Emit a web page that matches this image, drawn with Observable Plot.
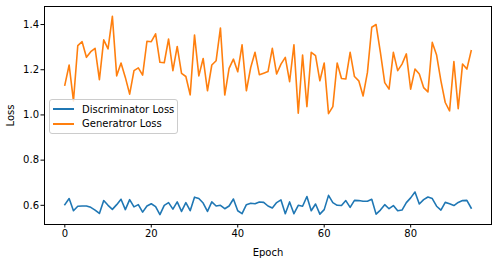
<!DOCTYPE html>
<html>
<head>
<meta charset="utf-8">
<script src="https://cdn.jsdelivr.net/npm/d3@7"></script>
<script src="https://cdn.jsdelivr.net/npm/@observablehq/plot@0.6"></script>
<style>
  html, body { margin: 0; padding: 0; background: #fff; }
  #wrap { position: relative; width: 497px; height: 262px; font-family: "DejaVu Sans", sans-serif; }
  #legend { position: absolute; left: 49px; top: 99px; width: 129px; padding: 2px 0;
    background: rgba(255,255,255,0.8); border: 1px solid #cccccc; border-radius: 3px;
    font-size: 10px; color: #000; box-sizing: border-box; }
  .item { display: flex; align-items: center; height: 14.5px; }
  .swatch { width: 21px; height: 2px; margin-left: 3px; margin-right: 8px; }
</style>
</head>
<body>
<div id="wrap"></div>
<script>
const seriesNames = ["Discriminator Loss", "Generatror Loss"];
const seriesColors = ["#1f77b4", "#ff7f0e"];
const discLoss = [
  0.603,0.630,0.576,0.596,0.597,0.597,0.591,0.579,0.564,0.621,
  0.600,0.582,0.603,0.627,0.581,0.625,0.593,0.603,0.570,0.597,
  0.607,0.594,0.559,0.600,0.612,0.583,0.615,0.573,0.612,0.576,
  0.636,0.630,0.610,0.573,0.615,0.597,0.600,0.585,0.597,0.628,
  0.576,0.563,0.603,0.609,0.607,0.615,0.613,0.597,0.588,0.612,
  0.624,0.563,0.615,0.563,0.600,0.596,0.639,0.576,0.606,0.561,
  0.581,0.644,0.612,0.600,0.599,0.621,0.591,0.622,0.621,0.618,
  0.618,0.627,0.561,0.579,0.603,0.585,0.599,0.576,0.579,0.612,
  0.633,0.659,0.606,0.625,0.637,0.630,0.596,0.579,0.613,0.607,
  0.599,0.613,0.621,0.622,0.588
];
const genLoss = [
  1.132,1.221,1.062,1.307,1.324,1.255,1.280,1.295,1.156,1.332,
  1.292,1.436,1.173,1.230,1.166,1.092,1.196,1.208,1.176,1.326,
  1.324,1.359,1.233,1.231,1.336,1.196,1.303,1.184,1.170,1.089,
  1.354,1.173,1.250,1.107,1.221,1.240,1.385,1.088,1.206,1.247,
  1.191,1.310,1.107,1.210,1.277,1.178,1.185,1.192,1.295,1.181,
  1.225,1.255,1.147,1.310,1.008,1.265,1.037,1.277,1.262,1.151,
  1.230,1.006,1.037,1.230,1.161,1.159,1.277,1.170,1.151,1.084,
  1.188,1.388,1.400,1.277,1.143,1.114,1.277,1.196,1.225,1.270,
  1.114,1.203,1.181,1.121,1.102,1.321,1.265,1.151,1.055,1.018,
  1.236,1.028,1.225,1.203,1.284
];
const xTicks = [0, 20, 40, 60, 80];
const yTicks = [0.6, 0.8, 1.0, 1.2, 1.4];

const rows = [];
[discLoss, genLoss].forEach((arr, s) => arr.forEach((v, i) => rows.push({epoch: i, loss: v, series: seriesNames[s]})));

const n = discLoss.length - 1;
const all = discLoss.concat(genLoss);
const ymin = d3.min(all), ymax = d3.max(all);
const xpad = n * 0.05, ypad = (ymax - ymin) * 0.05;

const chart = Plot.plot({
  width: 497,
  height: 262,
  marginLeft: 44,
  marginRight: 6,
  marginTop: 6,
  marginBottom: 38,
  style: {fontFamily: "DejaVu Sans, sans-serif", fontSize: "10px", color: "#000", background: "#fff"},
  x: {domain: [-xpad, n + xpad]},
  y: {domain: [ymin - ypad, ymax + ypad]},
  color: {domain: seriesNames, range: seriesColors},
  marks: [
    Plot.line(rows, {x: "epoch", y: "loss", z: "series", stroke: "series", strokeWidth: 1.6, strokeLinejoin: "round", strokeLinecap: "square"}),
    Plot.frame({stroke: "#000", strokeWidth: 1}),
    Plot.axisX({ticks: xTicks, tickSize: 3.5, tickPadding: 2, label: "Epoch", labelAnchor: "center", labelArrow: "none", labelOffset: 31, fontSize: 10}),
    Plot.axisY({ticks: yTicks, tickSize: 3.5, tickPadding: 2, tickFormat: d3.format(".1f"), label: "Loss", labelAnchor: "center", labelArrow: "none", labelOffset: 38, fontSize: 10})
  ]
});

const wrap = document.getElementById("wrap");
wrap.appendChild(chart);
const legend = document.createElement("div");
legend.id = "legend";
seriesNames.forEach((name, i) => {
  const item = document.createElement("div");
  item.className = "item";
  const sw = document.createElement("span");
  sw.className = "swatch";
  sw.style.background = seriesColors[i];
  const t = document.createElement("span");
  t.textContent = name;
  item.appendChild(sw);
  item.appendChild(t);
  legend.appendChild(item);
});
wrap.appendChild(legend);
</script>
</body>
</html>
